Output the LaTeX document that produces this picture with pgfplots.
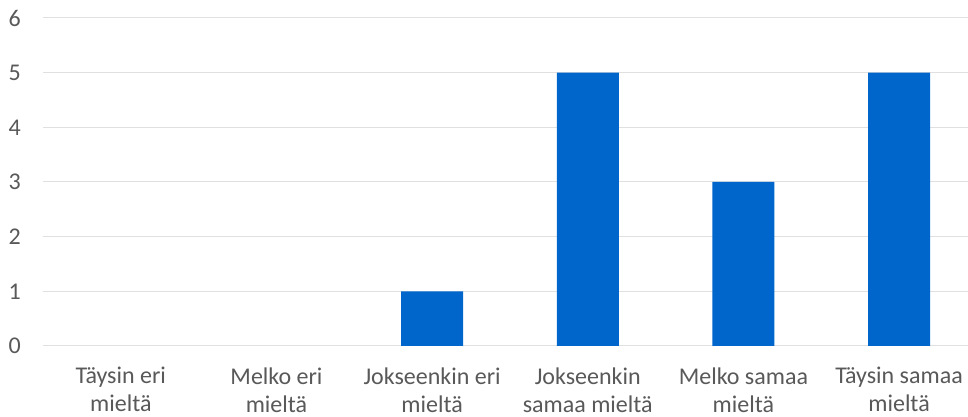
\documentclass[border=0pt]{standalone}
\usepackage{fontspec}
\setmainfont{Carlito}
\usepackage{pgfplots}
\pgfplotsset{compat=1.18}
\definecolor{barblue}{HTML}{0066CC}
\definecolor{gridgray}{HTML}{E0E0E0}
\definecolor{labelgray}{HTML}{595959}
\begin{document}
\begin{tikzpicture}
\useasboundingbox (-43pt,-71pt) rectangle (925pt,346pt);
\begin{axis}[
  scale only axis,
  width=925pt, height=328pt,
  xmin=-0.5, xmax=5.443,
  ymin=0, ymax=6,
  axis line style={draw=none},
  ymajorgrids,
  grid style={gridgray, line width=1pt},
  ytick={0,1,2,3,4,5,6},
  xtick={0,1,2,3,4,5},
  xticklabels={{Täysin eri\\mieltä},{Melko eri\\mieltä},{Jokseenkin eri\\mieltä},{Jokseenkin\\samaa mieltä},{Melko samaa\\mieltä},{Täysin samaa\\mieltä}},
  tick style={draw=none},
  /pgf/number format/assume math mode=true,
  tick label style={font=\fontsize{24}{28}\selectfont, text=labelgray},
  yticklabel style={anchor=east, inner sep=0pt, xshift=-22pt},
  xticklabel style={anchor=north, inner sep=0pt, yshift=-17pt, align=center},
  ybar, bar width=62pt,
]
% the first two categories (value 0) have no bar
\addplot[fill=barblue, draw=none] coordinates {(2,1) (3,5) (4,3) (5,5)};
\end{axis}
\end{tikzpicture}
\end{document}
